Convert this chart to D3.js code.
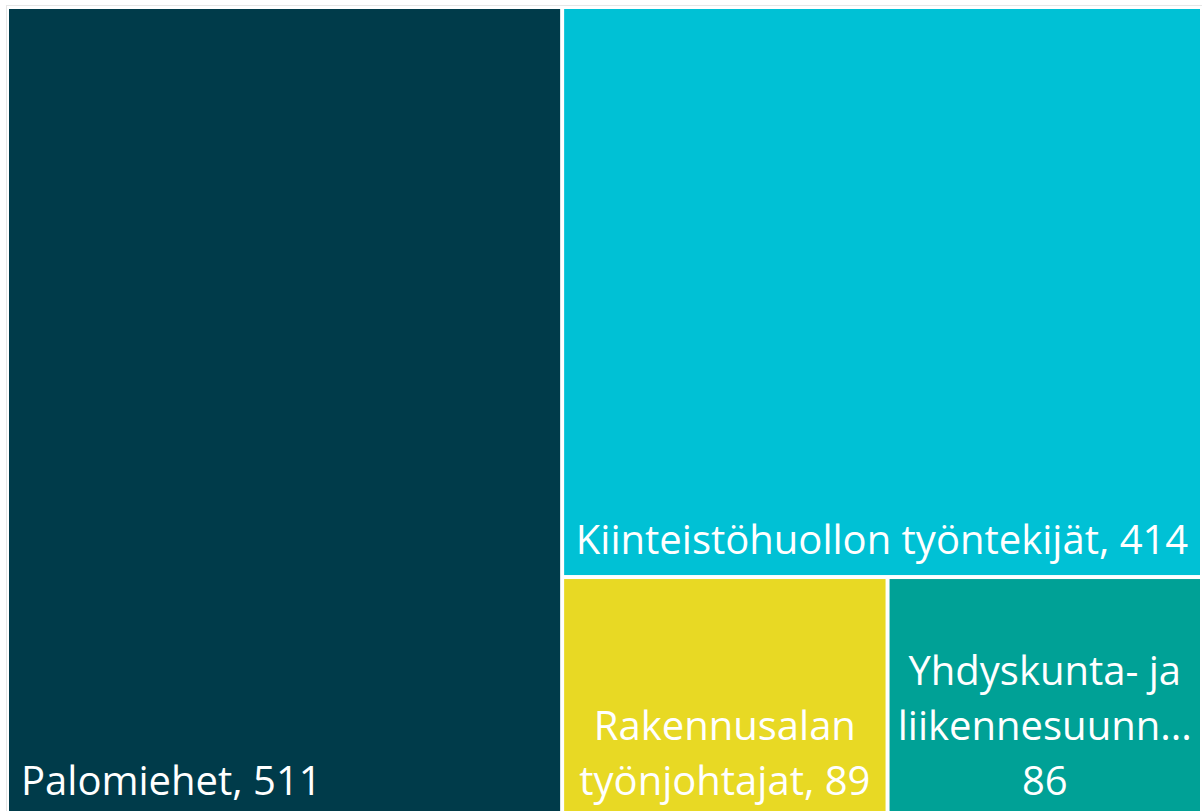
<!DOCTYPE html>
<html>
<head>
<meta charset="utf-8">
<script src="https://cdn.jsdelivr.net/npm/d3@7"></script>
<style>
  html, body { margin: 0; padding: 0; background: #ffffff; }
  svg { display: block; }
</style>
</head>
<body>
<svg id="chart" width="1202" height="811"></svg>
<script>
// ---- data ----
const categories = [
  "Palomiehet",
  "Kiinteistöhuollon työntekijät",
  "Rakennusalan työnjohtajat",
  "Yhdyskunta- ja liikennesuunnittelijat"
];
const values = [511, 414, 89, 86];
// labels as displayed (wrapped / truncated like the reference)
const labelLines = [
  ["Palomiehet, 511"],
  ["Kiinteistöhuollon työntekijät, 414"],
  ["Rakennusalan", "työnjohtajat, 89"],
  ["Yhdyskunta- ja", "liikennesuunn...", "86"]
];
const colors = ["#003b4a", "#00c1d5", "#e8d924", "#00a196"];
const labelAnchors = ["start", "middle", "middle", "middle"];

// ---- layout ----
const svg = d3.select("#chart");
const marginLeft = 9, marginTop = 9, innerW = 1191, innerH = 807;
const fontSize = 40, lineH = 55;

// faint outer frame
svg.append("rect")
  .attr("x", 6.5).attr("y", 5.5)
  .attr("width", 1200).attr("height", 812)
  .attr("fill", "none").attr("stroke", "#e6e6e6").attr("stroke-width", 1);

const tableData = categories.map((c, i) => ({
  name: c, value: values[i], lines: labelLines[i], color: colors[i], anchor: labelAnchors[i]
}));

const root = d3.hierarchy({ children: tableData })
  .sum(d => d.value || 0);

d3.treemap()
  .tile(d3.treemapSquarify.ratio(1))
  .size([innerW, innerH])
  .paddingInner(4)
  (root);

const g = svg.append("g").attr("transform", `translate(${marginLeft},${marginTop})`);

const cells = g.selectAll("g.cell")
  .data(root.leaves())
  .join("g")
  .attr("class", "cell");

cells.append("rect")
  .attr("x", d => d.x0)
  .attr("y", d => d.y0)
  .attr("width", d => d.x1 - d.x0)
  .attr("height", d => d.y1 - d.y0)
  .attr("fill", d => d.data.color);

cells.each(function(d) {
  const n = d.data.lines.length;
  const x = d.data.anchor === "start" ? d.x0 + 12 : (d.x0 + d.x1) / 2;
  const baseline = d.y1 - 21;
  const t = d3.select(this).append("text")
    .attr("text-anchor", d.data.anchor)
    .attr("fill", "#ffffff")
    .style("font-family", "'Segoe UI', 'Open Sans', 'Noto Sans', sans-serif")
    .style("font-size", fontSize + "px");
  d.data.lines.forEach((line, i) => {
    t.append("tspan")
      .attr("x", x)
      .attr("y", baseline - (n - 1 - i) * lineH)
      .text(line);
  });
});
</script>
</body>
</html>
